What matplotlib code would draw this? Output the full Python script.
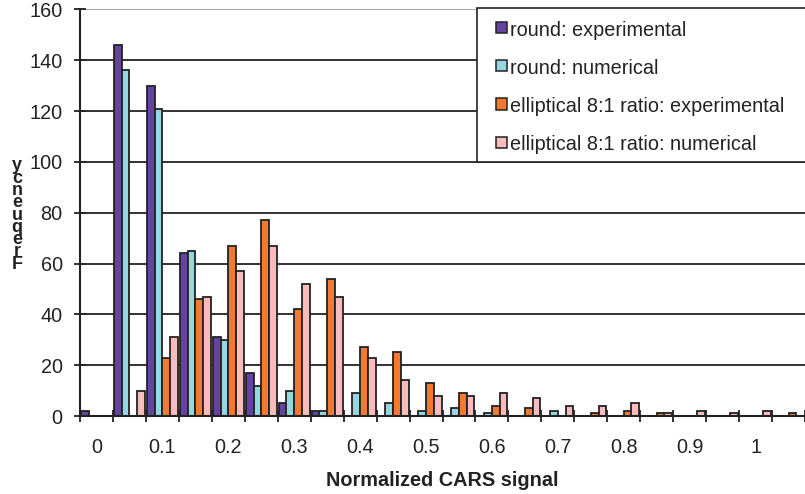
import matplotlib
matplotlib.use("Agg")
import matplotlib.pyplot as plt
import numpy as np
from matplotlib.patches import Rectangle

plt.rcParams['font.family'] = ['Liberation Sans', 'DejaVu Sans']

categories = ["0", "", "0.1", "", "0.2", "", "0.3", "", "0.4", "", "0.5", "",
              "0.6", "", "0.7", "", "0.8", "", "0.9", "", "1", ""]
round_exp = [2, 146, 130, 64, 31, 17, 5, 2, 0, 0, 0, 0, 0, 0, 0, 0, 0, 0, 0, 0, 0, 0]
round_num = [0, 136, 121, 65, 30, 12, 10, 2, 9, 5, 2, 3, 1, 0, 2, 0, 0, 0, 0, 0, 0, 0]
ell_exp = [0, 0, 23, 46, 67, 77, 42, 54, 27, 25, 13, 9, 4, 3, 0, 1, 2, 1, 0, 0, 0, 1]
ell_num = [0, 10, 31, 47, 57, 67, 52, 47, 23, 14, 8, 8, 9, 7, 4, 4, 5, 1, 2, 1, 2, 0]
series_names = ["round: experimental", "round: numerical",
                "elliptical 8:1 ratio: experimental", "elliptical 8:1 ratio: numerical"]
colors = ["#6444a0", "#96d6de", "#f07a30", "#f8bcbc"]
yticks = [0, 20, 40, 60, 80, 100, 120, 140, 160]
ylabel_text = "Frequency"
xlabel_text = "Normalized CARS signal"

FS = 14.3
W, H = 805, 494
fig = plt.figure(figsize=(W / 100, H / 100), dpi=100)
ax = fig.add_axes([80 / W, 1 - 416 / H, 725 / W, (416 - 9.5) / H])

n = len(categories)
x = np.arange(n)
bw = 0.235
data = [round_exp, round_num, ell_exp, ell_num]
for i, (vals, c) in enumerate(zip(data, colors)):
    ax.bar(x + (i - 1.5) * bw, vals, width=bw, color=c, edgecolor="#222222",
           linewidth=1.3, zorder=3)

ax.set_xlim(-0.5, n - 0.5)
ax.set_ylim(0, 160)
ax.set_yticks(yticks)
ax.set_yticklabels([str(v) for v in yticks])
for v in yticks[1:-1]:
    ax.axhline(v, color="#222222", linewidth=1.3, zorder=1)
ax.axhline(160, color="#a09a9a", linewidth=1.3, zorder=1)

# x ticks at category boundaries; labels at centers
ax.set_xticks(np.arange(n + 1) - 0.5)
ax.set_xticklabels([])
ax.set_xticks(x, minor=True)
ax.set_xticklabels(categories, minor=True)
ax.tick_params(axis="x", which="major", direction="inout", length=9, width=1.3, color="#222222")
ax.tick_params(axis="x", which="minor", length=0, pad=16, labelsize=FS, labelcolor="#222222")
ax.tick_params(axis="y", direction="inout", length=9, width=1.3, color="#222222",
               pad=8, labelsize=FS, labelcolor="#222222")

for s in ["top", "right"]:
    ax.spines[s].set_visible(False)
for s in ["left", "bottom"]:
    ax.spines[s].set_color("#222222")
    ax.spines[s].set_linewidth(1.5)
    ax.spines[s].set_zorder(4)

ax.set_xlabel(xlabel_text, fontsize=FS, fontweight="bold", color="#222222", labelpad=10)

# stacked y label (letters stacked bottom-to-top, as in the reference)
fig.text(17 / W, 1 - 215 / H, "\n".join(reversed(list(ylabel_text))), fontsize=13,
         fontweight="bold", color="#222222", ha="center", va="center",
         multialignment="center", linespacing=0.64)

# legend drawn in figure pixel coordinates
def fx(px):
    return px / W

def fy(py):
    return 1 - py / H

fig.patches.append(Rectangle((fx(477), fy(162)), fx(812) - fx(477), fy(8) - fy(162),
                             transform=fig.transFigure, facecolor="white",
                             edgecolor="#222222", linewidth=1.2, zorder=5))
row_y = [28, 66, 104, 143]
for yy, c, name in zip(row_y, colors, series_names):
    fig.patches.append(Rectangle((fx(495.5), fy(yy + 5.5)), fx(506.5) - fx(495.5),
                                 fy(yy - 5.5) - fy(yy + 5.5), transform=fig.transFigure,
                                 facecolor=c, edgecolor="#222222", linewidth=1.1, zorder=6))
    fig.text(fx(510), fy(yy), name, fontsize=FS, color="#222222", ha="left",
             va="center_baseline", zorder=7)

fig.savefig("out.png", dpi=100)
